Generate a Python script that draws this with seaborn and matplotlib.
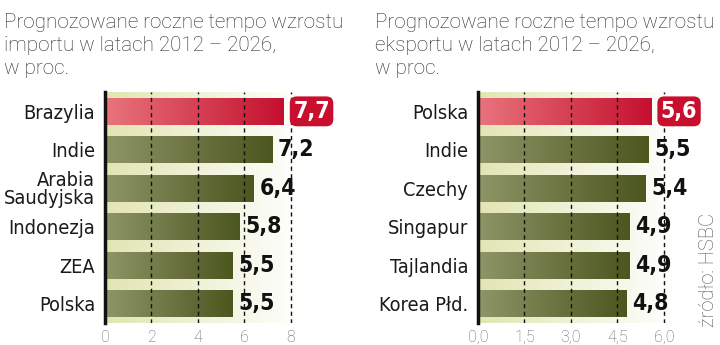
import numpy as np
import matplotlib
matplotlib.use("Agg")
import matplotlib.pyplot as plt
import seaborn as sns
from matplotlib.colors import LinearSegmentedColormap

import_countries = ["Brazylia", "Indie", "Arabia\nSaudyjska", "Indonezja", "ZEA", "Polska"]
import_values = [7.7, 7.2, 6.4, 5.8, 5.5, 5.5]
import_ticks = [0, 2, 4, 6, 8]
import_ticklabels = ["0", "2", "4", "6", "8"]

export_countries = ["Polska", "Indie", "Czechy", "Singapur", "Tajlandia", "Korea Płd."]
export_values = [5.6, 5.5, 5.4, 4.9, 4.9, 4.8]
export_ticks = [0.0, 1.5, 3.0, 4.5, 6.0]
export_ticklabels = ["0,0", "1,5", "3,0", "4,5", "6,0"]

title_import = "Prognozowane roczne tempo wzrostu\nimportu w latach 2012 – 2026,\nw proc."
title_export = "Prognozowane roczne tempo wzrostu\neksportu w latach 2012 – 2026,\nw proc."
source = "źródło: HSBC"

OLIVE = ("#8e9567", "#4c561f")
RED = ("#e9747d", "#c4102e")
BG = ("#e2e5b2", "#ffffff")

sns.set_theme(style="white")
plt.rcParams["font.family"] = ["DejaVu Sans"]
LIGHT = ["Roboto", "DejaVu Sans"]

fig = plt.figure(figsize=(7.2, 3.45), dpi=100)


def gradient_image(ax, extent, c0, c1, zorder, clip=None):
    cmap = LinearSegmentedColormap.from_list("grad", [c0, c1])
    grad = np.linspace(0, 1, 256).reshape(1, -1)
    im = ax.imshow(grad, cmap=cmap, aspect="auto", extent=extent,
                   zorder=zorder, interpolation="bicubic")
    if clip is not None:
        im.set_clip_path(clip)
    return im


def draw_panel(rect, countries, values, ticks, ticklabels, xmax):
    ax = fig.add_axes(rect)
    sns.barplot(x=values, y=countries, ax=ax, orient="h", width=0.7,
                color=OLIVE[1], saturation=1, edgecolor="none")
    n = len(values)

    # cream backdrop fading to white
    gradient_image(ax, [0, xmax, n - 0.5, -0.5], BG[0], BG[1], 0)

    # gradient fill inside each bar, first bar highlighted in red
    for i, patch in enumerate(ax.patches):
        c0, c1 = RED if i == 0 else OLIVE
        x0, y0 = patch.get_x(), patch.get_y()
        w, h = patch.get_width(), patch.get_height()
        patch.set_facecolor("none")
        patch.set_zorder(2)
        gradient_image(ax, [x0, x0 + w, y0 + h, y0], c0, c1, 2, clip=patch)
    ax.set_xlim(0, xmax)
    ax.set_ylim(n - 0.5, -0.5)

    # dashed reference lines
    for t in ticks[1:]:
        ax.axvline(t, color="#111111", lw=1.0, ls=(0, (3, 2.5)), zorder=3)

    # value labels
    for i, v in enumerate(values):
        txt = f"{v:.1f}".replace(".", ",")
        style = dict(ha="left", va="center", fontsize=16.5, fontweight="bold",
                     fontstretch="condensed", zorder=6, clip_on=False)
        if i == 0:
            ax.text(v + xmax * 0.048, i, txt, color="white",
                    bbox=dict(boxstyle="round,pad=0.15,rounding_size=0.3",
                              fc="#c8102e", ec="none"), **style)
        else:
            ax.text(v + xmax * 0.03, i, txt, color="#111111", **style)

    ax.set_xticks(ticks)
    ax.set_xticklabels(ticklabels, fontsize=11.5, color="#666666",
                       family=LIGHT, fontweight="light")
    ax.tick_params(axis="x", length=0, pad=5)
    ax.tick_params(axis="y", length=0, pad=7)
    for lab in ax.get_yticklabels():
        lab.set_fontsize(14.3)
        lab.set_fontstretch("condensed")
        lab.set_color("#1a1a1a")
        lab.set_linespacing(0.9)
    ax.set_xlabel("")
    ax.set_ylabel("")
    for side in ("top", "right", "bottom"):
        ax.spines[side].set_visible(False)
    ax.spines["left"].set_color("#111111")
    ax.spines["left"].set_linewidth(2.5)
    ax.spines["left"].set_zorder(5)
    ax.grid(False)
    return ax


ax1 = draw_panel([105 / 720, 0.064, 0.271, 0.669], import_countries,
                 import_values, import_ticks, import_ticklabels, 8.4)
ax2 = draw_panel([478 / 720, 0.064, 0.271, 0.669], export_countries,
                 export_values, export_ticks, export_ticklabels, 6.3)

title_style = dict(ha="left", va="baseline", fontsize=14.9, color="#2a2a2a",
                   family=LIGHT, fontweight="light", linespacing=1.28)
fig.text(4 / 720, 1 - 74 / 345, title_import, **title_style)
fig.text(375 / 720, 1 - 74 / 345, title_export, **title_style)
fig.text(709 / 720, 1 - 270 / 345, source, ha="center", va="center",
         rotation=90, fontsize=14.5, color="#555555",
         family=LIGHT, fontweight="light")

fig.savefig("out.png", dpi=100)
